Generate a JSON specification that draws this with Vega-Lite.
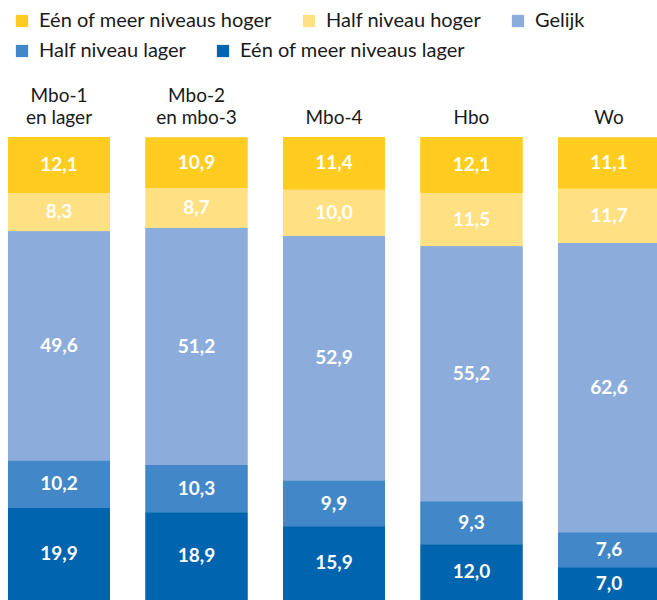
{
  "$schema": "https://vega.github.io/schema/vega-lite/v6.json",
  "width": 657,
  "height": 463,
  "autosize": "none",
  "padding": {"top": 137, "left": 0, "right": 0, "bottom": 0},
  "config": {
    "view": {"stroke": null},
    "font": "Lato",
    "legend": {
      "title": null, "orient": "none", "direction": "horizontal",
      "symbolType": "square", "symbolSize": 150, "symbolStrokeWidth": 0,
      "labelFont": "Lato", "labelFontSize": 20, "labelColor": "#1a1a1a", "labelOffset": 7,
      "columnPadding": 26, "padding": 0, "labelLimit": 400
    },
    "locale": {"number": {"decimal": ",", "thousands": ".", "grouping": [3], "currency": ["€", ""]}}
  },
  "data": {"values": [
    {"cat": "Mbo-1|en lager", "cls": "Eén of meer niveaus hoger", "o": 5, "v": 12.1},
    {"cat": "Mbo-1|en lager", "cls": "Half niveau hoger", "o": 4, "v": 8.3},
    {"cat": "Mbo-1|en lager", "cls": "Gelijk", "o": 3, "v": 49.6},
    {"cat": "Mbo-1|en lager", "cls": "Half niveau lager", "o": 2, "v": 10.2},
    {"cat": "Mbo-1|en lager", "cls": "Eén of meer niveaus lager", "o": 1, "v": 19.9},
    {"cat": "Mbo-2|en mbo-3", "cls": "Eén of meer niveaus hoger", "o": 5, "v": 10.9},
    {"cat": "Mbo-2|en mbo-3", "cls": "Half niveau hoger", "o": 4, "v": 8.7},
    {"cat": "Mbo-2|en mbo-3", "cls": "Gelijk", "o": 3, "v": 51.2},
    {"cat": "Mbo-2|en mbo-3", "cls": "Half niveau lager", "o": 2, "v": 10.3},
    {"cat": "Mbo-2|en mbo-3", "cls": "Eén of meer niveaus lager", "o": 1, "v": 18.9},
    {"cat": "Mbo-4", "cls": "Eén of meer niveaus hoger", "o": 5, "v": 11.4},
    {"cat": "Mbo-4", "cls": "Half niveau hoger", "o": 4, "v": 10.0},
    {"cat": "Mbo-4", "cls": "Gelijk", "o": 3, "v": 52.9},
    {"cat": "Mbo-4", "cls": "Half niveau lager", "o": 2, "v": 9.9},
    {"cat": "Mbo-4", "cls": "Eén of meer niveaus lager", "o": 1, "v": 15.9},
    {"cat": "Hbo", "cls": "Eén of meer niveaus hoger", "o": 5, "v": 12.1},
    {"cat": "Hbo", "cls": "Half niveau hoger", "o": 4, "v": 11.5},
    {"cat": "Hbo", "cls": "Gelijk", "o": 3, "v": 55.2},
    {"cat": "Hbo", "cls": "Half niveau lager", "o": 2, "v": 9.3},
    {"cat": "Hbo", "cls": "Eén of meer niveaus lager", "o": 1, "v": 12.0},
    {"cat": "Wo", "cls": "Eén of meer niveaus hoger", "o": 5, "v": 11.1},
    {"cat": "Wo", "cls": "Half niveau hoger", "o": 4, "v": 11.7},
    {"cat": "Wo", "cls": "Gelijk", "o": 3, "v": 62.6},
    {"cat": "Wo", "cls": "Half niveau lager", "o": 2, "v": 7.6},
    {"cat": "Wo", "cls": "Eén of meer niveaus lager", "o": 1, "v": 7.0}
  ]},
  "transform": [
    {"stack": "v", "groupby": ["cat"], "sort": [{"field": "o", "order": "ascending"}], "as": ["y0", "y1"]},
    {"calculate": "(datum.y0 + datum.y1) / 2", "as": "mid"}
  ],
  "encoding": {
    "x": {
      "field": "cat", "type": "nominal", "sort": null,
      "scale": {"range": [0, 668], "paddingInner": 0.258, "paddingOuter": 0.058},
      "axis": {
        "orient": "top", "title": null, "ticks": false, "domain": false,
        "labelAngle": 0, "labelFont": "Lato", "labelFontSize": 19, "labelColor": "#1a1a1a",
        "labelPadding": 32, "labelLineHeight": 22, "labelBaseline": "bottom",
        "labelExpr": "indexof(datum.label, '|') >= 0 ? split(datum.label, '|') : ['', datum.label]"
      }
    }
  },
  "layer": [
    {
      "mark": {"type": "bar"},
      "encoding": {
        "y": {"field": "y0", "type": "quantitative", "scale": {"domain": [0, 100.1], "nice": false}, "axis": null},
        "y2": {"field": "y1"},
        "color": {
          "field": "cls", "type": "nominal",
          "scale": {
            "domain": ["Eén of meer niveaus hoger", "Half niveau hoger", "Gelijk", "Half niveau lager", "Eén of meer niveaus lager"],
            "range": ["#FFCC1F", "#FFE082", "#8CADDB", "#4287C8", "#0064AF"]
          },
          "legend": {
            "legendX": 12, "legendY": -126,
            "values": ["Eén of meer niveaus hoger", "Half niveau hoger", "Gelijk"]
          }
        }
      }
    },
    {
      "mark": {"type": "bar"},
      "encoding": {
        "y": {"field": "y0", "type": "quantitative"},
        "y2": {"field": "y1"},
        "color": {
          "field": "cls", "type": "nominal",
          "scale": {
            "domain": ["Eén of meer niveaus hoger", "Half niveau hoger", "Gelijk", "Half niveau lager", "Eén of meer niveaus lager"],
            "range": ["#FFCC1F", "#FFE082", "#8CADDB", "#4287C8", "#0064AF"]
          },
          "legend": {
            "legendX": 12, "legendY": -96,
            "values": ["Half niveau lager", "Eén of meer niveaus lager"]
          }
        }
      }
    },
    {
      "mark": {"type": "text", "color": "white", "font": "Lato", "fontWeight": "bold", "fontSize": 19, "baseline": "middle"},
      "encoding": {
        "y": {"field": "mid", "type": "quantitative"},
        "text": {"field": "v", "type": "quantitative", "format": ".1f"}
      }
    }
  ],
  "resolve": {"scale": {"color": "independent"}, "legend": {"color": "independent"}}
}
